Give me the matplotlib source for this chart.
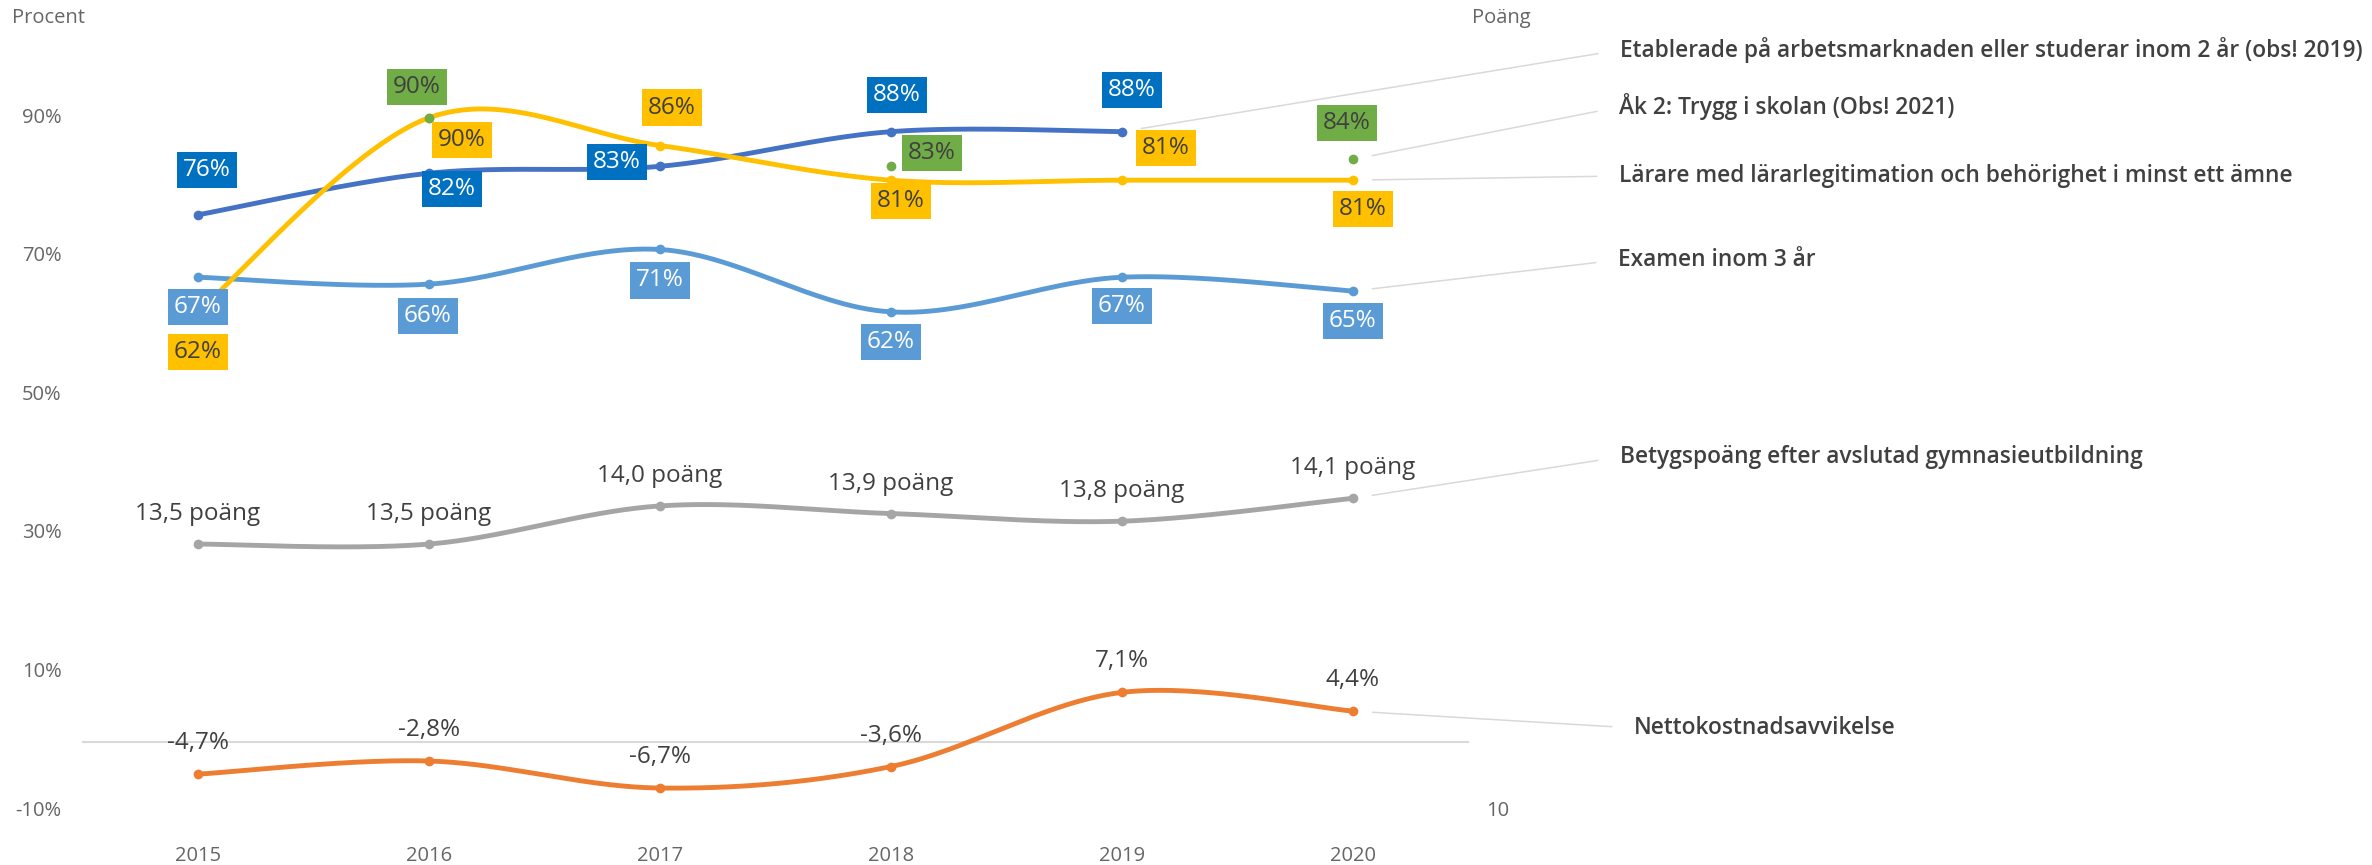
import numpy as np
import matplotlib
matplotlib.use('Agg')
import matplotlib.pyplot as plt
import matplotlib.transforms as mtransforms

plt.rcParams['font.family'] = ['Open Sans', 'DejaVu Sans']

# ---------------- data ----------------
years = ['2015', '2016', '2017', '2018', '2019', '2020']
etablerade = [76, 82, 83, 88, 88, None]
trygg = [None, 90, None, 83, None, 84]
larare = [62, 90, 86, 81, 81, 81]
examen = [67, 66, 71, 62, 67, 65]
betyg = [13.5, 13.5, 14.0, 13.9, 13.8, 14.1]
netto = [-4.7, -2.8, -6.7, -3.6, 7.1, 4.4]

name_etab = 'Etablerade på arbetsmarknaden eller studerar inom 2 år (obs! 2019)'
name_trygg = 'Åk 2: Trygg i skolan (Obs! 2021)'
name_larare = 'Lärare med lärarlegitimation och behörighet i minst ett ämne'
name_examen = 'Examen inom 3 år'
name_betyg = 'Betygspoäng efter avslutad gymnasieutbildning'
name_netto = 'Nettokostnadsavvikelse'

left_ticks = [90, 70, 50, 30, 10, -10]
right_ticks = [10]
left_title = 'Procent'
right_title = 'Poäng'

# ---------------- styles / layout ----------------
W, H = 2372, 865
C_ETAB_LINE = '#4472C4'
C_ETAB_BOX = '#0070C0'
C_EXAM = '#5B9BD5'
C_LAR = '#FFC000'
C_TRYGG = '#70AD47'
C_BET = '#A5A5A5'
C_NET = '#ED7D31'
C_TXT = '#404040'
C_TICK = '#666666'
C_LEAD = '#D9D9D9'
LW = 3.5
MS = 7
FS_LBL = 17.5
FS_TICK = 14.5
FS_NAME = 15.5
NAME_TARGET_W = 744  # px width of the longest series name

# label offsets in pixels (dx, dy) relative to the data point
off_etab = [(9, 45), (23, -16), (-43, 4), (6, 37), (10, 42), None]
off_exam = [(0, -30), (-1, -32), (0, -31), (0, -30), (0, -29), (0, -30)]
off_lar = [(0, -40), (33, -22), (12, 38), (10, -21), (44, 32), (10, -29)]
off_trygg = [None, (-12, 31), None, (41, 13), None, (-6, 36)]
off_bet = [(0, 30)] * 6
off_net = [(0, 31)] * 6

fig = plt.figure(figsize=(W / 100, H / 100), dpi=100)
ax = fig.add_axes([82.3 / W, 0.06254, (1468.5 - 82.3) / W, 0.88139])
ax2 = ax.twinx()

ax.set_xlim(-0.5, 5.5)
ax.set_ylim(-10, 100)
ax2.set_ylim(10, 20)

for a in (ax, ax2):
    for s in a.spines.values():
        s.set_visible(False)

ax.set_xticks(range(len(years)), years)
ax.set_yticks(left_ticks, [f'{t}%' for t in left_ticks])
ax2.set_yticks(right_ticks, [str(t) for t in right_ticks])
ax.tick_params(axis='both', length=0, labelsize=FS_TICK, labelcolor=C_TICK)
ax.tick_params(axis='y', pad=15)
ax.tick_params(axis='x', pad=25)
ax2.tick_params(axis='y', length=0, labelsize=FS_TICK, labelcolor=C_TICK, pad=13)

# value-axis labels sit slightly above their gridline value (as in the original)
lift = mtransforms.ScaledTranslation(0, 0.027, fig.dpi_scale_trans)
for lab in ax.get_yticklabels() + ax2.get_yticklabels():
    lab.set_transform(lab.get_transform() + lift)

ax.axhline(0, color=C_LEAD, lw=1.5, zorder=1)


def smooth(vals, n=60):
    """Excel-style smoothed line (Catmull-Rom Bezier) through contiguous runs."""
    runs, cur = [], []
    for i, v in enumerate(vals):
        if v is None:
            if cur:
                runs.append(cur)
            cur = []
        else:
            cur.append((i, v))
    if cur:
        runs.append(cur)
    out = []
    for run in runs:
        if len(run) < 2:
            continue
        P = np.array(run, dtype=float)
        xs, ys = [], []
        t = np.linspace(0, 1, n)[:, None]
        for i in range(len(P) - 1):
            p0 = P[i - 1] if i > 0 else P[i]
            p1, p2 = P[i], P[i + 1]
            p3 = P[i + 2] if i + 2 < len(P) else P[i + 1]
            c1 = p1 + (p2 - p0) / 6
            c2 = p2 - (p3 - p1) / 6
            seg = ((1 - t) ** 3) * p1 + 3 * ((1 - t) ** 2) * t * c1 + 3 * (1 - t) * t ** 2 * c2 + t ** 3 * p2
            xs.extend(seg[:, 0]); ys.extend(seg[:, 1])
        out.append((np.array(xs), np.array(ys)))
    return out


def draw_series(a, vals, color, z):
    for xs, ys in smooth(vals):
        a.plot(xs, ys, color=color, lw=LW, solid_capstyle='round', zorder=z)
    idx = [i for i, v in enumerate(vals) if v is not None]
    a.plot(idx, [vals[i] for i in idx], 'o', color=color, ms=MS, mew=0, zorder=z + 0.1)


draw_series(ax, etablerade, C_ETAB_LINE, 3)
draw_series(ax, examen, C_EXAM, 3.2)
draw_series(ax, larare, C_LAR, 3.4)
draw_series(ax, trygg, C_TRYGG, 3.6)
draw_series(ax, netto, C_NET, 3)
draw_series(ax2, betyg, C_BET, 3)


def fmt_pct(v):
    return f'{v:g}%'.replace('.', ',')


def box_labels(a, vals, offs, fc, tc, fmt):
    for i, v in enumerate(vals):
        if v is None or offs[i] is None:
            continue
        kw = dict(xy=(i, v), xytext=offs[i], textcoords='offset pixels',
                  ha='center', va='center', fontsize=FS_LBL, color=tc,
                  zorder=10, annotation_clip=False)
        if fc is not None:
            kw['bbox'] = dict(boxstyle='square,pad=0.25', fc=fc, ec='none')
        a.annotate(fmt(v), **kw)


box_labels(ax, etablerade, off_etab, C_ETAB_BOX, 'white', fmt_pct)
box_labels(ax, examen, off_exam, C_EXAM, 'white', fmt_pct)
box_labels(ax, larare, off_lar, C_LAR, C_TXT, fmt_pct)
box_labels(ax, trygg, off_trygg, C_TRYGG, C_TXT, fmt_pct)
box_labels(ax, netto, off_net, None, C_TXT, lambda v: f'{v:.1f}%'.replace('.', ','))
box_labels(ax2, betyg, off_bet, None, C_TXT, lambda v: f'{v:.1f} poäng'.replace('.', ','))

# size the series-name font so the longest name spans the same width as the original
probe = fig.text(0, 0, name_etab, fontsize=FS_NAME, fontweight='semibold')
fig.canvas.draw()
w = probe.get_window_extent(fig.canvas.get_renderer()).width
probe.remove()
fs_name = FS_NAME * NAME_TARGET_W / w

# series names with leader lines
name_specs = [
    (ax, name_etab, 4, etablerade[4], 1620, 50),
    (ax, name_trygg, 5, trygg[5], 1619, 107),
    (ax, name_larare, 5, larare[5], 1619, 176),
    (ax, name_examen, 5, examen[5], 1618, 260),
    (ax2, name_betyg, 5, betyg[5], 1620, 457),
    (ax, name_netto, 5, netto[5], 1634, 728),
]
for a, name, xi, yv, px, py in name_specs:
    a.annotate(name, xy=(xi, yv), xycoords='data', xytext=(px, H - py),
               textcoords='figure pixels', ha='left', va='center',
               fontsize=fs_name, fontweight='semibold', color=C_TXT,
               annotation_clip=False, zorder=12,
               arrowprops=dict(arrowstyle='-', color=C_LEAD, lw=1.1,
                               shrinkA=14, shrinkB=14, relpos=(0, 0.5)))

fig.text(12 / W, 1 - 18 / H, left_title, ha='left', va='center', fontsize=FS_TICK, color=C_TICK)
fig.text(1472 / W, 1 - 18 / H, right_title, ha='left', va='center', fontsize=FS_TICK, color=C_TICK)

fig.savefig('out.png', dpi=100, facecolor='white')
